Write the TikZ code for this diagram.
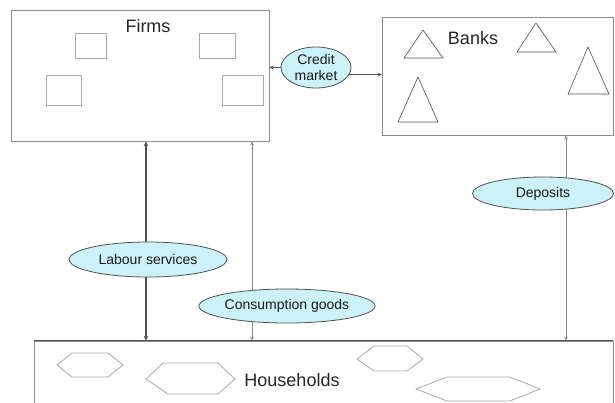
\documentclass[tikz,border=0pt]{standalone}
\usepackage{fontspec}
\setmainfont{Liberation Sans}
\usetikzlibrary{arrows,positioning,shapes.geometric,backgrounds}
\definecolor{C0}{HTML}{CCF2F8}
\definecolor{C1}{HTML}{505050}
\definecolor{C2}{HTML}{8C8C8C}
\definecolor{C3}{HTML}{A8A8A8}
\tikzset{
    sector/.style = {draw=C2, line width=.8pt, inner sep=0pt},
    market/.style = {ellipse, draw=C1, fill=C0, line width=.8pt, inner sep=0pt,
                     align=center, text=black!90, font=\fontsize{14}{16.5}\selectfont},
    title/.style  = {text=black!85, font=\fontsize{18}{20}\selectfont},
    agent/.style  = {draw=C3, line width=.8pt},
    bank/.style   = {draw=C1, line width=.6pt},
    flow/.style   = {stealth-stealth, draw=C2, line width=.8pt},
}

\begin{document}
\begin{tikzpicture}[x=1pt, y=-1pt]
    \clip (0,0) rectangle (615,402);
    % sectors
        \node [sector, minimum width=258pt, minimum height=131pt] (firms) at (140,75.5) {};
        \node [sector, minimum width=231pt, minimum height=118pt] (banks) at (497.5,76) {};
        \node [sector, minimum width=579pt, minimum height=89pt] (households) at (323.5,385.5) {};
        \draw [C1, line width=1.2pt] (households.north west) -- (households.north east);
        \node [title] (firmslabel) at (148,26) {Firms};
        \node [title] (bankslabel) at (473,38) {Banks};
        \node [title] (hhlabel) at (292,380) {Households};
    % firms
        \draw [agent] (75,33) rectangle (106,58);
        \draw [agent] (199,33) rectangle (235,58);
        \draw [agent] (46,75) rectangle (81,105);
        \draw [agent] (222,75) rectangle (263,105);
    % banks
        \draw [bank] (423,30) -- (404,58) -- (443,58) -- cycle;
        \draw [bank] (536,23) -- (517,52) -- (556,52) -- cycle;
        \draw [bank] (588,47) -- (568,94) -- (609,94) -- cycle;
        \draw [bank] (418,77) -- (398,122) -- (438,122) -- cycle;
    % households
        \draw [agent] (57,365) -- (72,353) -- (108,353) -- (123,365) -- (108,377) -- (72,377) -- cycle;
        \draw [agent] (146,379) -- (163,363) -- (218,363) -- (235,379) -- (218,394) -- (168,394) -- cycle;
        \draw [agent] (357,359) -- (374,346) -- (407,346) -- (423,359) -- (407,371) -- (374,371) -- cycle;
        \draw [agent] (416,389) -- (447,377) -- (510,377) -- (540,389) -- (510,401) -- (447,401) -- cycle;
    % markets
        \node [market, minimum width=70pt, minimum height=41pt] (credit) at (316,67.5) {Credit\\market};
        \node [market, minimum width=158pt, minimum height=35pt] (labour) at (148,259.5) {Labour services};
        \node [market, minimum width=159pt, minimum height=34pt] (goods) at (287,306) {Consumption goods};
        \node [market, minimum width=141pt, minimum height=33pt] (deposits) at (543,193.5) {Deposits};
    % flows
        \coordinate (labx) at (146,0);
        \coordinate (goodsx) at (252,0);
        \coordinate (depx) at (566,0);
        \begin{scope}[on background layer]
            \draw [flow, draw=C1, line width=1.1pt] (labx |- firms.south) -- (labx |- households.north);
            \draw [flow] (goodsx |- firms.south) -- (goodsx |- households.north);
            \draw [flow] (depx |- banks.south) -- (depx |- households.north);
        \end{scope}
        \draw [-stealth, draw=C1, line width=.8pt] (credit.west) -- (credit.west -| firms.east);
        \draw [-stealth, draw=C1, line width=.8pt] (credit.-12) -- (credit.-12 -| banks.west);
\end{tikzpicture}
\end{document}
